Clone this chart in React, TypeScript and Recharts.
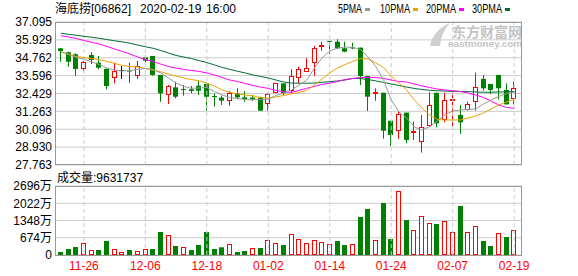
import { ComposedChart, Bar, Line, XAxis, YAxis, CartesianGrid, ReferenceLine } from 'recharts';

const UP = '#ff0000';
const DOWN = '#008000';

// trading days, 2019-11-21 .. 2020-02-19
const dates = [
    '11-21', '11-22', '11-25', '11-26', '11-27', '11-28', '11-29',
    '12-02', '12-03', '12-04', '12-05', '12-06', '12-09', '12-10', '12-11', '12-12', '12-13',
    '12-16', '12-17', '12-18', '12-19', '12-20', '12-23', '12-24', '12-27', '12-30', '12-31',
    '01-02', '01-03', '01-06', '01-07', '01-08', '01-09', '01-10', '01-13', '01-14', '01-15',
    '01-16', '01-17', '01-20', '01-21', '01-22', '01-23', '01-24', '01-29', '01-30', '01-31',
    '02-03', '02-04', '02-05', '02-06', '02-07', '02-10', '02-11', '02-12', '02-13', '02-14',
    '02-17', '02-18', '02-19',
];

const opens = [
    35.38, 35.12, 34.99, 34.03, 34.94, 34.44, 34.03, 33.42, 33.94, 33.93,
    33.59, 34.79, 34.88, 33.64, 32.33, 32.83, 32.72, 32.70, 32.94, 33.05,
    32.27, 32.16, 31.96, 32.44, 32.18, 32.16, 32.16, 31.72, 32.48, 33.09,
    32.59, 33.42, 33.85, 34.44, 35.44, 35.86, 35.81, 35.38, 35.44, 35.42,
    33.57, 32.38, 32.48, 30.65, 29.96, 31.18, 29.94, 29.25, 30.31, 32.48,
    30.70, 31.99, 31.03, 31.35, 31.85, 33.38, 33.05, 33.64, 32.66, 32.07,
];
const highs = [
    35.40, 35.16, 35.05, 34.55, 35.12, 34.88, 34.07, 34.44, 34.22, 34.44,
    34.55, 34.90, 34.88, 33.64, 32.98, 33.20, 32.98, 32.92, 33.26, 33.09,
    32.44, 32.29, 32.59, 32.77, 32.59, 32.33, 32.22, 32.44, 33.13, 33.09,
    34.01, 34.18, 34.73, 35.53, 35.81, 35.86, 35.97, 35.81, 35.74, 35.42,
    33.57, 32.77, 32.48, 30.65, 31.24, 31.18, 30.59, 31.03, 32.51, 32.48,
    32.48, 32.61, 31.68, 31.89, 33.79, 33.64, 33.05, 33.64, 33.09, 33.20,
];
const lows = [
    34.50, 34.18, 33.59, 33.90, 34.35, 34.01, 32.70, 33.09, 33.38, 33.11,
    33.38, 34.47, 33.59, 31.89, 31.74, 32.12, 32.29, 32.44, 32.33, 31.31,
    31.57, 31.68, 31.63, 32.05, 31.89, 31.96, 31.31, 31.31, 32.44, 32.33,
    32.44, 33.09, 33.85, 33.59, 35.22, 35.01, 35.33, 35.12, 35.33, 32.98,
    31.29, 31.96, 29.48, 29.00, 29.46, 29.18, 29.40, 28.57, 30.26, 30.22,
    30.55, 30.26, 29.79, 31.31, 31.31, 32.61, 32.38, 32.05, 31.72, 31.72,
];
const closes = [
    35.20, 34.50, 34.03, 34.48, 34.62, 34.11, 32.92, 33.90, 33.94, 33.88,
    34.24, 34.57, 33.64, 32.44, 32.92, 32.22, 32.66, 32.59, 32.61, 32.22,
    32.20, 31.96, 32.44, 32.18, 32.07, 32.05, 31.31, 32.40, 33.09, 32.44,
    33.57, 34.01, 34.07, 35.38, 35.59, 35.81, 35.38, 35.16, 35.40, 33.57,
    32.22, 32.53, 30.00, 29.72, 31.09, 29.40, 30.00, 30.22, 31.68, 30.48,
    32.01, 32.07, 30.55, 31.72, 32.87, 32.77, 32.66, 32.77, 31.72, 32.77,
];

const ma5 = [
    35.16, 34.97, 34.78, 34.68, 34.49, 34.32, 34.09, 33.96, 33.90, 33.93,
    34.00, 34.07, 34.00, 33.77, 33.44, 33.11, 32.89, 32.77, 32.79, 32.82,
    32.56, 32.33, 32.17, 32.10, 32.04, 32.01, 32.04, 32.07, 32.30, 32.46,
    32.66, 32.98, 33.31, 34.09, 34.75, 35.20, 35.40, 35.46, 35.44, 35.30,
    34.81, 34.18, 33.31, 32.01, 31.22, 30.83, 30.24, 30.05, 30.26, 30.64,
    31.03, 31.29, 31.35, 31.39, 31.42, 31.74, 32.01, 32.23, 32.43, 32.50,
];
const ma10 = [
    35.12, 35.01, 34.84, 34.78, 34.71, 34.64, 34.52, 34.39, 34.26, 34.19,
    34.16, 34.06, 33.96, 33.85, 33.70, 33.57, 33.44, 33.34, 33.25, 33.11,
    32.92, 32.66, 32.50, 32.40, 32.33, 32.27, 32.17, 32.12, 32.20, 32.30,
    32.40, 32.50, 32.63, 32.98, 33.38, 33.77, 34.09, 34.32, 34.52, 34.71,
    34.68, 34.42, 34.13, 33.57, 33.11, 32.66, 32.01, 31.48, 31.03, 30.73,
    30.70, 30.70, 30.70, 30.83, 30.96, 31.16, 31.42, 31.68, 31.87, 32.05,
];
const ma20 = [
    36.20, 36.12, 36.02, 35.89, 35.77, 35.66, 35.50, 35.33, 35.17, 35.01,
    34.81, 34.65, 34.52, 34.35, 34.19, 34.09, 34.00, 33.93, 33.87, 33.77,
    33.64, 33.47, 33.31, 33.21, 33.08, 32.95, 32.85, 32.76, 32.63, 32.53,
    32.50, 32.63, 32.77, 32.89, 33.02, 33.11, 33.21, 33.34, 33.41, 33.47,
    33.49, 33.47, 33.41, 33.31, 33.21, 33.18, 33.05, 32.92, 32.82, 32.72,
    32.66, 32.61, 32.56, 32.46, 32.33, 32.17, 31.94, 31.68, 31.52, 31.46,
];
const ma30 = [
    36.36, 36.29, 36.23, 36.16, 36.10, 36.03, 35.95, 35.87, 35.80, 35.71,
    35.59, 35.48, 35.38, 35.24, 35.07, 34.91, 34.81, 34.71, 34.58, 34.45,
    34.29, 34.13, 34.00, 33.88, 33.77, 33.64, 33.54, 33.44, 33.31, 33.18,
    33.11, 33.10, 33.10, 33.11, 33.16, 33.20, 33.25, 33.31, 33.41, 33.40,
    33.34, 33.25, 33.15, 33.05, 32.95, 32.85, 32.76, 32.69, 32.64, 32.61,
    32.59, 32.57, 32.56, 32.55, 32.53, 32.51, 32.51, 32.53, 32.54, 32.55,
];

// volume in 万 shares
const volumes = [
    117, 234, 313, 456, 195, 195, 547, 222, 105, 195,
    156, 234, 234, 899, 769, 352, 300, 195, 391, 899,
    234, 300, 417, 117, 156, 260, 273, 586, 456, 391,
    808, 625, 456, 586, 495, 417, 547, 391, 417, 1485,
    1797, 586, 2032, 625, 2500, 1367, 977, 1524, 1237, 1211,
    1328, 899, 1914, 899, 1120, 547, 352, 846, 703, 963,
];
// 1 = red (close above previous close)
const volUp = [
    0, 0, 0, 1, 1, 0, 0, 1, 1, 0, 1, 1, 0, 0, 1, 0, 1, 0, 0, 0,
    0, 0, 1, 0, 0, 1, 0, 1, 1, 0, 1, 1, 1, 1, 1, 1, 0, 0, 1, 0,
    0, 1, 0, 0, 1, 0, 1, 1, 1, 0, 1, 1, 0, 1, 1, 0, 0, 1, 0, 1,
];

const priceTicks = [27.763, 28.930, 30.096, 31.263, 32.429, 33.596, 34.762, 35.929, 37.095];
const volTicks = [0, 674, 1348, 2022, 2696];
const dateTicks = ['11-26', '12-06', '12-18', '01-02', '01-14', '01-24', '02-07', '02-19'];

const rows = dates.map((date, i) => ({
    date,
    open: opens[i],
    high: highs[i],
    low: lows[i],
    close: closes[i],
    range: [lows[i], highs[i]],
    ma5: ma5[i],
    ma10: ma10[i],
    ma20: ma20[i],
    ma30: ma30[i],
    vol: volumes[i],
    volUp: volUp[i] === 1,
}));

function CandleShape(props: any) {
    const { x, y, width, height, payload } = props;
    if (!payload || x == null || y == null) return null;
    const { open, close, high, low } = payload;
    const top = Math.min(y, y + height);
    const h = Math.abs(height);
    const span = high - low;
    const py = (v: number) => (span > 0 ? top + ((high - v) / span) * h : top);
    const cx = Math.floor(x + width / 2) + 0.5;
    const yOpen = py(open);
    const yClose = py(close);
    const bodyTop = Math.min(yOpen, yClose);
    const bodyBot = Math.max(yOpen, yClose);

    if (close > open) {
        const t = Math.round(bodyTop) + 0.5;
        const b = Math.max(Math.round(bodyBot) - 0.5, t + 1);
        return (
            <g>
                <line x1={cx} x2={cx} y1={top} y2={t} stroke={UP} />
                <line x1={cx} x2={cx} y1={b} y2={top + h} stroke={UP} />
                <rect x={cx - 2} y={t} width={4} height={b - t} fill="#fff" stroke={UP} />
            </g>
        );
    }
    if (close < open) {
        return (
            <g>
                <line x1={cx} x2={cx} y1={top} y2={top + h} stroke={DOWN} />
                <rect x={cx - 2.5} y={bodyTop} width={5} height={Math.max(bodyBot - bodyTop, 1)} fill={DOWN} />
            </g>
        );
    }
    return (
        <g>
            <line x1={cx} x2={cx} y1={top} y2={top + h} stroke="#000" />
            <line x1={cx - 2.5} x2={cx + 2.5} y1={Math.round(yOpen) + 0.5} y2={Math.round(yOpen) + 0.5} stroke="#000" />
        </g>
    );
}

function VolumeShape(props: any) {
    const { x, y, width, height, payload } = props;
    if (!payload || x == null || y == null) return null;
    const cx = Math.floor(x + width / 2) + 0.5;
    const top = Math.min(y, y + height);
    const h = Math.abs(height);
    if (payload.volUp) {
        const t = Math.round(top) + 0.5;
        return <rect x={cx - 2} y={t} width={4} height={Math.max(top + h - t - 0.5, 1)} fill="#fff" stroke={UP} />;
    }
    return <rect x={cx - 2.5} y={top} width={5} height={h} fill={DOWN} />;
}

const legendItems = [
    { label: '5PMA', x: 338, color: '#999999' },
    { label: '10PMA', x: 380, color: '#f0a000' },
    { label: '20PMA', x: 426, color: '#ff00ff' },
    { label: '30PMA', x: 472, color: '#006b35' },
];

const axisTick = { fill: '#000', fontSize: 12 };

export default function App() {
    return (
        <div
            style={{
                position: 'absolute',
                left: 0,
                top: 0,
                width: 578,
                height: 276,
                background: '#fff',
                fontFamily: '"Liberation Sans", Arial, "Noto Sans CJK SC", sans-serif',
                overflow: 'hidden',
            }}
        >
            <svg width={578} height={276} style={{ position: 'absolute', left: 0, top: 0 }}>
                <text x={55} y={13} fontSize={12} fill="#000">海底捞[06862]</text>
                <text x={140} y={13} fontSize={12} fill="#000">2020-02-19</text>
                <text x={206} y={13} fontSize={12} fill="#000">16:00</text>
                {legendItems.map((item) => (
                    <g key={item.label}>
                        <text
                            x={item.x}
                            y={13}
                            fontSize={12}
                            fill="#000"
                            textLength={item.label.length * 6}
                            lengthAdjust="spacingAndGlyphs"
                        >
                            {item.label}
                        </text>
                        <rect x={item.x + item.label.length * 6 + 3} y={8} width={5} height={3} fill={item.color} />
                    </g>
                ))}
                <path d="M430 46 C 432 36, 438 28, 450 23 C 444 30, 441 37, 440 46 Z" fill="#cfcfcf" />
                <text x={452} y={36.5} fontSize={14} fontWeight="bold" fill="#c4c4c4" textLength={70} lengthAdjust="spacingAndGlyphs">
                    东方财富网
                </text>
                <text x={448} y={47} fontSize={9.5} fontWeight="bold" fill="#c4c4c4" textLength={74} lengthAdjust="spacingAndGlyphs">
                    eastmoney.com
                </text>
                <text x={57} y={182} fontSize={12} fill="#000">成交量:9631737</text>
            </svg>

            <div style={{ position: 'absolute', left: 0, top: 0 }}>
                <ComposedChart width={578} height={175} data={rows} margin={{ top: 22, right: 56, bottom: 10, left: 0 }}>
                    <CartesianGrid vertical={false} stroke="#cccccc" />
                    <XAxis dataKey="date" hide padding={{ left: 2, right: 4 }} />
                    <YAxis
                        type="number"
                        width={55}
                        domain={[27.763, 37.095]}
                        ticks={priceTicks}
                        interval={0}
                        allowDataOverflow
                        tickFormatter={(v: number) => v.toFixed(3)}
                        tick={axisTick}
                        tickLine={false}
                        tickSize={3}
                        tickMargin={0}
                        axisLine={false}
                    />
                    {dateTicks.map((d) => (
                        <ReferenceLine key={d} x={d} stroke="#cccccc" strokeDasharray="4 3" />
                    ))}
                    <Bar dataKey="range" barSize={5} shape={CandleShape} isAnimationActive={false} />
                    <Line type="linear" dataKey="ma30" stroke="#006b35" strokeWidth={1} dot={false} isAnimationActive={false} />
                    <Line type="linear" dataKey="ma20" stroke="#ff00ff" strokeWidth={1} dot={false} isAnimationActive={false} />
                    <Line type="linear" dataKey="ma10" stroke="#f0a000" strokeWidth={1} dot={false} isAnimationActive={false} />
                    <Line type="linear" dataKey="ma5" stroke="#999999" strokeWidth={1} dot={false} isAnimationActive={false} />
                </ComposedChart>
            </div>

            <div style={{ position: 'absolute', left: 0, top: 176 }}>
                <ComposedChart width={578} height={100} data={rows} margin={{ top: 10, right: 56, bottom: 0, left: 0 }}>
                    <CartesianGrid vertical={false} stroke="#cccccc" />
                    <XAxis
                        dataKey="date"
                        height={21}
                        padding={{ left: 2, right: 4 }}
                        ticks={dateTicks}
                        interval={0}
                        tick={{ fill: '#ff0000', fontSize: 12 }}
                        tickLine={false}
                        tickSize={4}
                        axisLine={false}
                    />
                    <YAxis
                        type="number"
                        width={55}
                        domain={[0, 2696]}
                        ticks={volTicks}
                        interval={0}
                        tickFormatter={(v: number) => (v === 0 ? '0' : `${v}万`)}
                        tick={axisTick}
                        tickLine={false}
                        tickSize={3}
                        tickMargin={0}
                        axisLine={false}
                    />
                    {dateTicks.map((d) => (
                        <ReferenceLine key={d} x={d} stroke="#cccccc" strokeDasharray="4 3" />
                    ))}
                    <Bar dataKey="vol" barSize={5} shape={VolumeShape} isAnimationActive={false} />
                </ComposedChart>
            </div>

            {/* panel borders */}
            <div style={{ position: 'absolute', left: 55, top: 22, width: 467, height: 143, border: '1px solid #999', boxSizing: 'border-box', pointerEvents: 'none' }} />
            <div style={{ position: 'absolute', left: 55, top: 186, width: 467, height: 70, border: '1px solid #999', boxSizing: 'border-box', pointerEvents: 'none' }} />
        </div>
    );
}
